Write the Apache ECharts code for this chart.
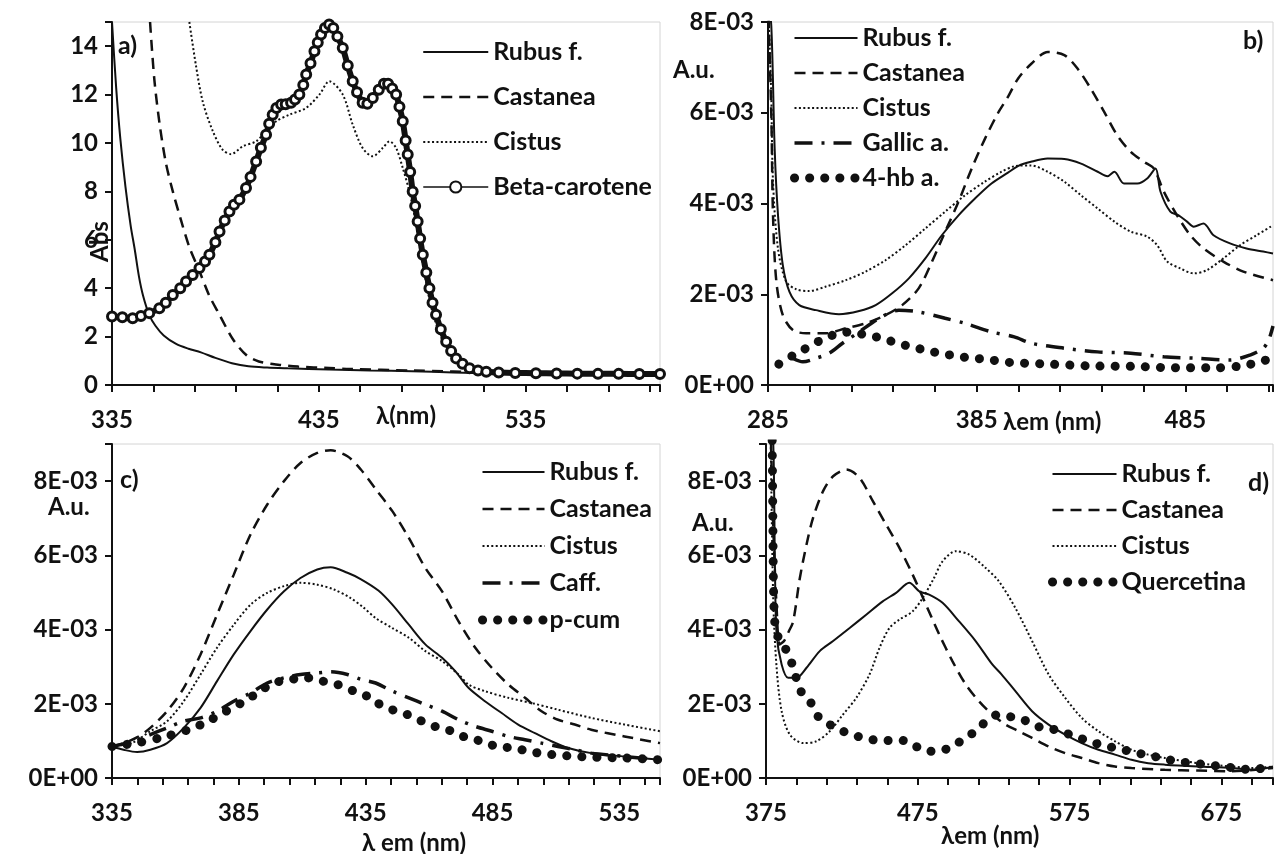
<!DOCTYPE html>
<html>
<head>
<meta charset="utf-8">
<script src="https://cdn.jsdelivr.net/npm/echarts@6/dist/echarts.min.js"></script>
<style>
  html, body { margin: 0; background: #fff; }
  #chart { width: 1276px; height: 854px; }
</style>
</head>
<body>
<div id="chart"></div>
<script>
// tick labels shown on each x axis
const aTickLabels = [335, 435, 535];
const bTickLabels = [285, 385, 485];
const cTickLabels = [335, 385, 435, 485, 535];
const dTickLabels = [375, 475, 575, 675];

// a) absorbance, [nm, Abs]
const aRubus = [[335,15],[337,12.3],[339,10.2],[341.5,8.2],[344,6.6],[346,5.6],[348,4.5],[350,3.7],[353,2.9],[356,2.45],[360,2.05],[366,1.7],[372,1.5],[378,1.35],[385,1.12],[393,0.9],[401,0.77],[410,0.72],[420,0.69],[440,0.64],[460,0.6],[480,0.57],[500,0.52],[520,0.48],[560,0.44],[600,0.41]];
const aCastanea = [[353.4,15],[355.5,12.6],[358,10.8],[361,9.2],[364.4,8.0],[368.4,6.8],[372.4,5.7],[377.3,4.7],[382,3.7],[387,2.9],[393.4,1.9],[399.8,1.25],[406,0.97],[416,0.83],[425,0.76],[440,0.7],[450,0.66],[480,0.6],[520,0.52],[560,0.46],[600,0.43]];
const aCistus = [[372.4,15],[375.6,13.2],[378.9,11.7],[383.7,10.5],[388.5,9.72],[392.6,9.54],[398.2,9.86],[404.7,10.07],[409.5,10.48],[414.4,10.9],[420.8,11.17],[428.9,11.45],[435.3,12.0],[440.1,12.55],[446.6,12.0],[451.4,10.76],[456.2,9.79],[461.1,9.45],[466,9.8],[469.2,10.07],[472.4,9.79],[475.6,8.97],[478.8,8.0],[481.5,6.9],[484,5.6],[487,4.2],[490,3.0],[495,1.8],[500,1.1],[507,0.7],[515,0.55],[540,0.48],[600,0.44]];
const aBeta = [[335,2.83],[340,2.8],[345,2.76],[349,2.85],[353,2.97],[357.9,3.17],[361,3.4],[364.4,3.72],[368,4.0],[370.8,4.28],[374,4.55],[377.3,4.83],[380,5.1],[382.1,5.38],[385,5.9],[387,6.34],[389.5,6.8],[391.8,7.17],[394,7.45],[396.6,7.66],[399.8,8.14],[402,8.6],[404.7,9.24],[407,9.8],[409.5,10.34],[411,10.8],[412.7,11.17],[414.5,11.45],[416.8,11.59],[419,11.6],[421.6,11.66],[423.5,11.8],[425.6,12.0],[427.5,12.4],[428.9,12.83],[431,13.3],[432.9,13.79],[434.5,14.15],[436.1,14.48],[438,14.75],[440,14.9],[442,14.75],[444,14.4],[446.6,13.93],[449,13.2],[451.4,12.55],[453.5,12.1],[456.2,11.66],[458.5,11.62],[461.1,11.86],[464,12.2],[466.5,12.45],[468.5,12.45],[470.5,12.25],[472.4,12.0],[474,11.5],[475.6,10.9],[477,10.1],[478,9.52],[479.2,8.8],[480.4,8.0],[481.6,7.4],[482.8,6.76],[484,6.05],[485.3,5.38],[487,4.65],[488.5,4.0],[490,3.4],[491.7,2.9],[494,2.3],[496.6,1.79],[499,1.4],[501.4,1.1],[504.5,0.88],[507.9,0.69],[512,0.6],[516,0.55],[522,0.52],[530,0.5],[540,0.49],[550,0.48],[560,0.47],[570,0.46],[580,0.46],[590,0.45],[600,0.45]];

// b) emission, [nm, A.u. in units of 1E-03]
const bRubus = [[285,8.5],[286.6,7.9],[288.2,5.2],[289.8,3.74],[292.1,2.64],[295.3,2.05],[300,1.76],[308,1.65],[319,1.56],[328.7,1.63],[336.6,1.76],[344.5,2.02],[352.5,2.35],[360.4,2.79],[368.3,3.3],[376.3,3.74],[384.2,4.11],[392.1,4.44],[400,4.68],[405,4.83],[411,4.92],[419,4.99],[427,4.98],[435,4.88],[443,4.7],[447.7,4.6],[451,4.7],[455.6,4.44],[462,4.44],[466.7,4.55],[470.7,4.77],[473.1,4.26],[477.8,3.82],[481.8,3.74],[485.8,3.6],[489,3.49],[493.7,3.56],[498.5,3.3],[506.4,3.12],[514.3,3.01],[522.3,2.94],[527,2.9]];
const bCastanea = [[285,8.5],[286.6,5.94],[287.4,3.74],[289,2.28],[292.1,1.54],[296.9,1.21],[303.3,1.14],[312.8,1.14],[322.3,1.25],[331.8,1.36],[341.3,1.54],[349.3,1.76],[357.2,2.13],[363.6,2.72],[369.9,3.38],[376.3,4.04],[382.6,4.77],[389,5.43],[395.3,6.0],[400,6.35],[404.8,6.75],[411.2,7.08],[419.1,7.34],[427,7.27],[433.4,6.97],[439.7,6.53],[446.1,6.02],[452.4,5.5],[458.8,5.14],[465.1,4.92],[469.9,4.77],[474.7,4.26],[481,3.74],[487.4,3.3],[493.7,3.01],[503.2,2.72],[512.8,2.5],[527,2.31]];
const bCistus = [[285,8.5],[286.5,6.5],[287.4,4.48],[289.8,3.0],[293.7,2.28],[298.5,2.11],[304.8,2.07],[312.8,2.17],[322.3,2.31],[331.8,2.5],[341.3,2.75],[350.9,3.08],[360.4,3.45],[369.9,3.82],[379.4,4.18],[388.9,4.48],[396.9,4.7],[403,4.82],[411,4.84],[419,4.7],[427,4.48],[435,4.18],[443,3.89],[451,3.6],[458.8,3.38],[466.7,3.27],[471.5,3.08],[476.3,2.72],[482.6,2.57],[489,2.46],[495.3,2.53],[503.2,2.79],[511.2,3.08],[519.1,3.3],[527,3.52]];
const bGallic = [[296.9,0.59],[301.7,0.51],[308,0.59],[314.4,0.7],[320.7,0.92],[328.7,1.17],[338.2,1.47],[347.7,1.65],[357.2,1.61],[369.9,1.47],[379.4,1.36],[392.1,1.17],[403,1.06],[411.2,0.92],[427,0.81],[442.9,0.73],[458.8,0.7],[474.7,0.62],[490.5,0.59],[506.4,0.55],[516,0.66],[522.3,0.81],[525,1.0],[527,1.3]];
const bHba = [[290.2,0.46],[296.9,0.65],[303.3,0.81],[310.4,0.99],[317.5,1.12],[324.7,1.17],[331.8,1.1],[339.8,1.03],[346.9,0.92],[354,0.84],[362,0.75],[369.9,0.68],[377.9,0.62],[384.2,0.59],[392.1,0.55],[400,0.5],[420,0.46],[440,0.42],[460,0.41],[480,0.38],[500,0.38],[512,0.42],[520,0.5],[527,0.6]];

// c) emission, [nm, 1E-03]
const cRubus = [[335,0.85],[339.6,0.76],[344.9,0.7],[350.1,0.76],[356.7,0.94],[363.3,1.35],[369.9,1.89],[376.4,2.61],[383,3.33],[389.6,3.96],[396.2,4.54],[402.8,5.03],[409.3,5.39],[415.9,5.62],[421.2,5.68],[427.8,5.53],[433,5.36],[440,5.05],[445.5,4.67],[452,4.13],[458.5,3.6],[465.1,3.24],[470.3,2.88],[475.5,2.43],[482,2.07],[488.6,1.75],[495.1,1.44],[501.7,1.21],[508.2,0.99],[514.8,0.81],[523.9,0.67],[537,0.58],[551,0.49]];
const cCastanea = [[335,0.85],[340,0.95],[345,1.1],[350.1,1.35],[356.7,1.8],[363.3,2.43],[369.9,3.33],[376.4,4.4],[383,5.48],[389.6,6.56],[396.2,7.37],[402.8,8.0],[409.3,8.49],[415.9,8.76],[421.2,8.83],[427.8,8.67],[433,8.32],[439,7.78],[445.5,7.19],[452,6.47],[458.5,5.66],[465.1,5.03],[471.6,4.22],[478.2,3.51],[484.7,2.97],[491.2,2.52],[497.8,2.16],[504.3,1.8],[510.8,1.57],[517.4,1.44],[523.9,1.3],[537,1.12],[551,0.94]];
const cCistus = [[335,0.85],[343,0.95],[350.1,1.26],[356.7,1.53],[363.3,2.07],[369.9,2.79],[376.4,3.51],[383,4.13],[389.6,4.67],[396.2,4.99],[402.8,5.17],[409.3,5.26],[415.9,5.21],[422.5,5.08],[429,4.85],[434,4.6],[438.9,4.31],[445.5,4.04],[452,3.78],[458.5,3.42],[465.1,3.15],[471.6,2.79],[475.5,2.52],[482,2.34],[491.2,2.16],[500.4,2.02],[510.8,1.84],[523.9,1.62],[537,1.44],[551,1.26]];
const cCaff = [[335,0.85],[343.6,0.99],[350.1,1.17],[356.7,1.35],[363.3,1.53],[369.9,1.62],[376.4,1.8],[383,2.07],[389.6,2.29],[396.2,2.56],[402.8,2.7],[409.3,2.79],[415.9,2.83],[421.2,2.86],[427.8,2.79],[433,2.66],[438.9,2.56],[445.5,2.34],[452,2.16],[458.5,1.98],[465.1,1.8],[471.6,1.57],[478.2,1.39],[484.7,1.26],[491.2,1.12],[497.8,1.03],[504.3,0.94],[510.8,0.85],[517.4,0.76],[523.9,0.67],[537,0.58],[551,0.49]];
const cPcum = [[335,0.85],[345,0.95],[355,1.1],[365,1.3],[372,1.5],[380,1.8],[388.3,2.11],[392.2,2.29],[398.8,2.56],[405.4,2.65],[410.7,2.71],[417.2,2.62],[423.8,2.52],[430.4,2.34],[435.7,2.2],[439.6,2.02],[445.5,1.84],[451.4,1.71],[457.2,1.53],[463.1,1.37],[469,1.26],[474.9,1.08],[480.8,0.99],[486.6,0.85],[493.2,0.81],[499.1,0.72],[505.6,0.65],[512.1,0.61],[518,0.58],[523.9,0.56],[537,0.54],[551,0.49]];

// d) emission, [nm, 1E-03]
const dRubus = [[378,9.5],[379.8,8.99],[380.9,5.66],[382,3.87],[385.3,3.06],[389.6,2.7],[395.1,2.7],[401.7,2.97],[410.4,3.42],[419.2,3.69],[430.1,4.04],[441,4.4],[451.9,4.76],[460.7,4.99],[469.4,5.26],[476,5.03],[482.5,4.94],[491.3,4.72],[502.2,4.22],[513.1,3.69],[524.1,3.06],[530,2.8],[539.3,2.34],[550.3,1.8],[561.2,1.44],[572.1,1.17],[583,0.94],[594,0.76],[604.9,0.63],[615.8,0.49],[626.8,0.4],[637.7,0.36],[659.5,0.31],[681.4,0.27],[696.7,0.22],[709,0.31]];
const dCastanea = [[378,9.5],[380,6.5],[382,4.6],[384,3.6],[387,3.7],[390,3.95],[392.9,4.22],[397.3,5.39],[401.7,6.29],[406,7.01],[412.6,7.73],[419.2,8.13],[427.9,8.31],[436.6,8.09],[445.4,7.46],[454.1,6.83],[462.9,6.2],[471.6,5.48],[480.4,4.67],[489.1,3.87],[497.8,3.15],[506.6,2.52],[515.3,2.07],[524.1,1.71],[532.8,1.44],[541.6,1.26],[550.3,1.08],[561.2,0.85],[572.1,0.67],[583,0.54],[594,0.4],[604.9,0.31],[615.8,0.27],[637.7,0.22],[659.5,0.2],[681.4,0.18],[709,0.27]];
const dCistus = [[378,9.5],[379.8,4.76],[382,2.97],[385.3,1.8],[390.7,1.17],[399.5,0.94],[408.2,0.99],[417,1.26],[425.7,1.71],[434.5,2.16],[443.2,2.79],[449.8,3.51],[456.3,4.04],[462.9,4.27],[471.6,4.49],[478.2,4.85],[485.7,5.39],[491.3,5.84],[500,6.11],[508.8,6.02],[519.7,5.66],[528.4,5.3],[539.3,4.58],[550.3,3.69],[561.2,2.79],[572.1,2.16],[583,1.62],[594,1.26],[604.9,0.99],[615.8,0.76],[626.8,0.63],[637.7,0.54],[659.5,0.4],[681.4,0.31],[696.7,0.27],[709,0.31]];
const dQuercetina = [[379,9.5],[379.5,7],[380,5],[381,4.1],[383,3.8],[386.3,3.6],[390.7,3.24],[394,2.83],[397.3,2.38],[403.9,2.07],[409.3,1.66],[417,1.44],[425.7,1.26],[435.5,1.12],[445.4,1.03],[455.2,1.01],[465.1,1.01],[473.8,0.85],[482.5,0.72],[492.4,0.76],[501.1,0.94],[509.9,1.17],[517.5,1.44],[527.3,1.7],[537.2,1.64],[547,1.53],[556.8,1.35],[565.6,1.3],[575.4,1.17],[585.2,1.03],[595.1,0.9],[604.9,0.81],[614.7,0.72],[624.6,0.63],[635.5,0.54],[645.3,0.45],[655.2,0.4],[665,0.36],[674.8,0.31],[684.7,0.27],[695.6,0.22],[705.5,0.31]];

const FONT = 'Lato';
const INK = '#111';

// line looks, as in the original plot
const solid = { type: 'solid', width: 2 };
const dashed = { type: [11, 7], width: 2.5 };
const dotted = { type: [2, 2.4], width: 2 };
const dashDot = { type: [18, 9, 3, 9], width: 3.5 };
const bigDots = { type: [0.1, 15], width: 9, cap: 'round' };

function line(name, idx, data, style, extra) {
  return Object.assign({
    name: name,
    type: 'line',
    xAxisIndex: idx,
    yAxisIndex: idx,
    data: data,
    symbol: 'none',
    smooth: 0.3,
    animation: false,
    itemStyle: { color: INK },
    lineStyle: Object.assign({ color: INK }, style)
  }, extra || {});
}

const labelFont = { color: INK, fontSize: 24, fontWeight: 'bold', fontFamily: FONT };

function xAxis(idx, min, max, interval, labels) {
  return {
    type: 'value', gridIndex: idx, min: min, max: max, interval: interval,
    axisLine: { show: true, lineStyle: { color: INK, width: 2 } },
    axisTick: { show: true, length: 7, lineStyle: { color: INK, width: 2 } },
    splitLine: { show: false },
    axisLabel: Object.assign({
      margin: 23,
      formatter: v => labels.includes(Math.round(v)) ? String(Math.round(v)) : ''
    }, labelFont)
  };
}

function yAxis(idx, max, fmt) {
  return {
    type: 'value', gridIndex: idx, min: 0, max: max, interval: 2,
    axisLine: { show: true, lineStyle: { color: INK, width: 2 } },
    axisTick: { show: true, length: 7, lineStyle: { color: INK, width: 2 } },
    splitLine: { show: false },
    axisLabel: Object.assign({ margin: 14, formatter: fmt }, labelFont)
  };
}

const absFmt = v => (v % 2 === 0 ? String(v) : '');
const sciFmt = v => {
  const n = Math.round(v);
  if (n !== v || n % 2 !== 0) return '';
  return n === 0 ? '0E+00' : n + 'E-03';
};

// legend markers are hidden, only the line look is shown (except beta-carotene)
function legend(left, top, gap, names, width) {
  return {
    orient: 'vertical', left: left, top: top, itemGap: gap,
    itemWidth: width, itemHeight: 14,
    selectedMode: false,
    itemStyle: { opacity: 0 },
    lineStyle: { width: 'inherit' },
    textStyle: { color: INK, fontSize: 25, fontWeight: 'bold', fontFamily: FONT, lineHeight: 26 },
    data: names
  };
}

function txt(x, y, s, extra) {
  return {
    type: 'text', left: x, top: y, silent: true,
    style: Object.assign({ text: s, fill: INK, font: 'bold 25px ' + FONT }, extra || {})
  };
}

const gridStyle = { show: true, borderColor: '#d4d4d4', borderWidth: 1, backgroundColor: 'transparent' };

const chart = echarts.init(document.getElementById('chart'), null, { renderer: 'canvas' });
chart.setOption({
  backgroundColor: '#fff',
  animation: false,
  grid: [
    Object.assign({ left: 112, top: 22, width: 548, height: 363 }, gridStyle),
    Object.assign({ left: 768, top: 22, width: 508, height: 363 }, gridStyle),
    Object.assign({ left: 112, top: 444, width: 548, height: 334 }, gridStyle),
    Object.assign({ left: 766, top: 444, width: 510, height: 334 }, gridStyle)
  ],
  xAxis: [
    xAxis(0, 335, 600, 20, aTickLabels),
    xAxis(1, 285, 527, 20, bTickLabels),
    xAxis(2, 335, 551, 10, cTickLabels),
    xAxis(3, 375, 709, 20, dTickLabels)
  ],
  yAxis: [
    yAxis(0, 15, absFmt),
    yAxis(1, 8, sciFmt),
    yAxis(2, 9, sciFmt),
    yAxis(3, 9, sciFmt)
  ],
  legend: [
    legend(417, 34, 19, ['Rubus f.', 'Castanea', 'Cistus',
      { name: 'Beta-carotene', lineStyle: { width: 1.5 },
        itemStyle: { opacity: 1, color: '#fff', borderColor: INK, borderWidth: 2 } }], 65),
    legend(785, 20, 9, ['Rubus f.', 'Castanea', 'Cistus', 'Gallic a.', '4-hb a.'], 63),
    legend(473, 454, 11, ['Rubus f.', 'Castanea', 'Cistus', 'Caff.', 'p-cum'], 62),
    legend(1043, 456, 10, ['Rubus f.', 'Castanea', 'Cistus', 'Quercetina'], 64)
  ],
  graphic: [
    txt(118, 33, 'a)'),
    txt(1243, 28, 'b)'),
    txt(120, 467, 'c)'),
    txt(1248, 470, 'd)'),
    { type: 'text', x: 88, y: 262, rotation: Math.PI / 2, silent: true,
      style: { text: 'Abs', fill: INK, font: 'bold 24px ' + FONT } },
    txt(673, 58, 'A.u.', { font: 'bold 24px ' + FONT }),
    txt(48, 495, 'A.u.', { font: 'bold 24px ' + FONT }),
    txt(692, 511, 'A.u.', { font: 'bold 24px ' + FONT }),
    txt(376, 404, 'λ(nm)', { font: 'bold 24px ' + FONT }),
    txt(1003, 410, 'λem (nm)', { font: 'bold 24px ' + FONT }),
    txt(362, 831, 'λ em (nm)', { font: 'bold 24px ' + FONT }),
    txt(941, 824, 'λem (nm)', { font: 'bold 24px ' + FONT })
  ],
  series: [
    line('Rubus f.', 0, aRubus, solid),
    line('Castanea', 0, aCastanea, dashed),
    line('Cistus', 0, aCistus, dotted),
    line('Beta-carotene', 0, aBeta, { type: 'solid', width: 6 }, {
      symbol: 'circle', symbolSize: 9, showSymbol: true,
      itemStyle: { color: '#fff', borderColor: INK, borderWidth: 3 }
    }),

    line('Rubus f.', 1, bRubus, solid),
    line('Castanea', 1, bCastanea, dashed),
    line('Cistus', 1, bCistus, dotted),
    line('Gallic a.', 1, bGallic, dashDot),
    line('4-hb a.', 1, bHba, bigDots),

    line('Rubus f.', 2, cRubus, solid),
    line('Castanea', 2, cCastanea, dashed),
    line('Cistus', 2, cCistus, dotted),
    line('Caff.', 2, cCaff, dashDot),
    line('p-cum', 2, cPcum, bigDots),

    line('Rubus f.', 3, dRubus, solid),
    line('Castanea', 3, dCastanea, dashed),
    line('Cistus', 3, dCistus, dotted),
    line('Quercetina', 3, dQuercetina, bigDots)
  ]
});
</script>
</body>
</html>
